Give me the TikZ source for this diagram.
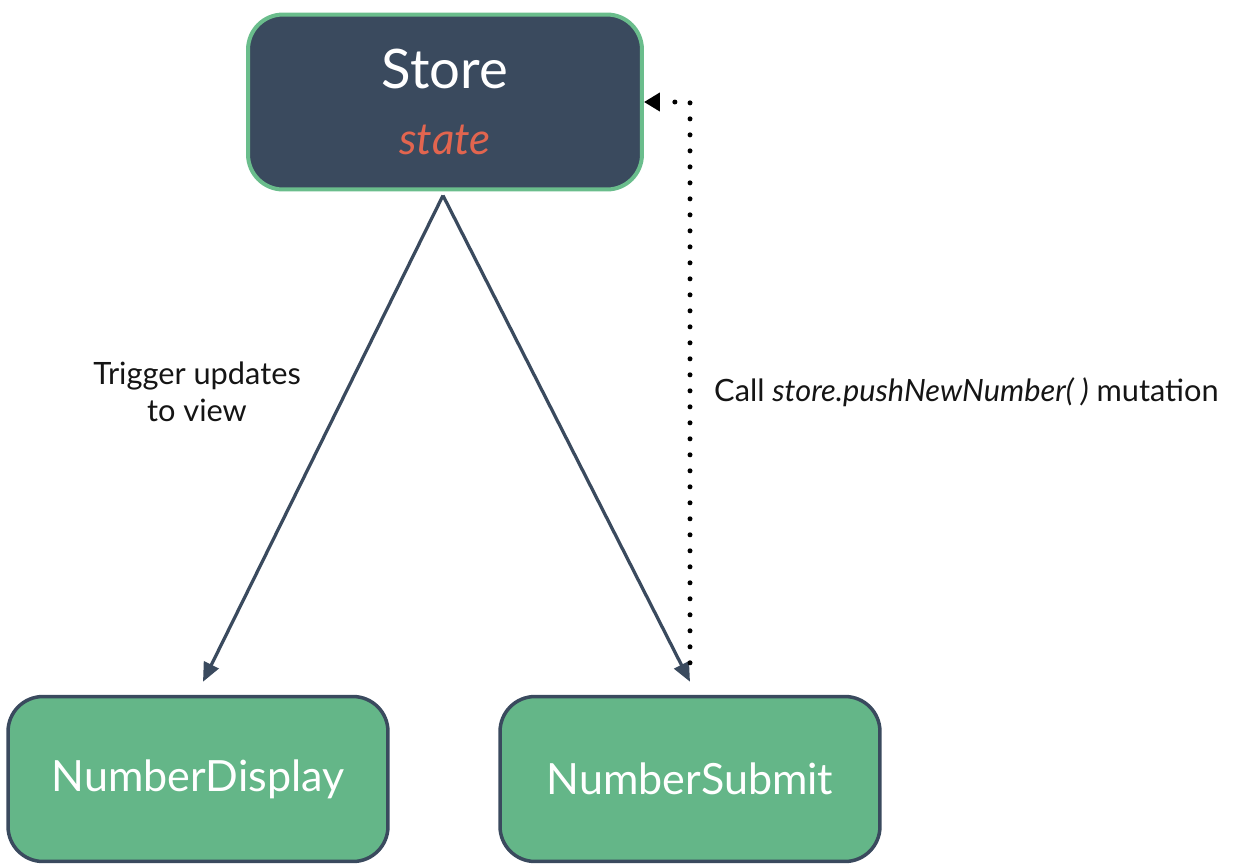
\documentclass[tikz,border=0pt]{standalone}
\usepackage{fontspec}
\setmainfont{Lato}
\usetikzlibrary{arrows.meta,calc}
\definecolor{slate}{HTML}{3A4A5E}
\definecolor{leaf}{HTML}{64B688}
\definecolor{leafline}{HTML}{6ABD8C}
\definecolor{statered}{HTML}{E2654F}
\definecolor{ink}{HTML}{151515}

\begin{document}
\begin{tikzpicture}[x=0.02cm,y=-0.02cm,
  storebox/.style={draw=leafline,fill=slate,line width=0.08cm,rounded corners=0.7cm,minimum width=7.88cm,minimum height=3.5cm,text=white,align=center,inner sep=0pt},
  compbox/.style={draw=slate,fill=leaf,line width=0.07cm,rounded corners=0.7cm,minimum width=7.6cm,minimum height=3.3cm,text=white,font=\fontsize{24.5}{28}\selectfont},
  flow/.style={draw=slate,line width=0.065cm,-{Triangle[length=0.38cm,width=0.32cm]}},
  callflow/.style={draw=black,line width=0.1cm,line cap=round,dash pattern=on 0cm off 0.32cm,-{Triangle[length=0.32cm,width=0.36cm]}},
  note/.style={text=ink,font=\fontsize{17.5}{21}\selectfont,align=center}]

\useasboundingbox (0,0) rectangle (1234,863);

\node(store) at (445,102) [storebox] {\fontsize{31}{36}\selectfont Store\\[20pt]\fontsize{25}{30}\selectfont\color{statered}\itshape state};
\node(display) at (198,779) [compbox] {NumberDisplay};
\node(submit) at (690,779) [compbox] {NumberSubmit};

\draw[flow] ($(store.south)+(-2,4)$) -- ($(display.north)+(5,-13)$);
\draw[flow] ($(store.south)+(-2,4)$) -- ($(submit.north)+(0,-13)$);
%\draw[callflow] (submit.north) -- (store.east);
\draw[callflow] ($(submit.north)+(0,-32)$) |- (store.east);

\node(trigger) at (197,392) [note] {Trigger updates\\to view};
\node(call) at (708,392) [note,anchor=west] {Call \textit{store.pushNewNumber( )} mutation};

\end{tikzpicture}
\end{document}
